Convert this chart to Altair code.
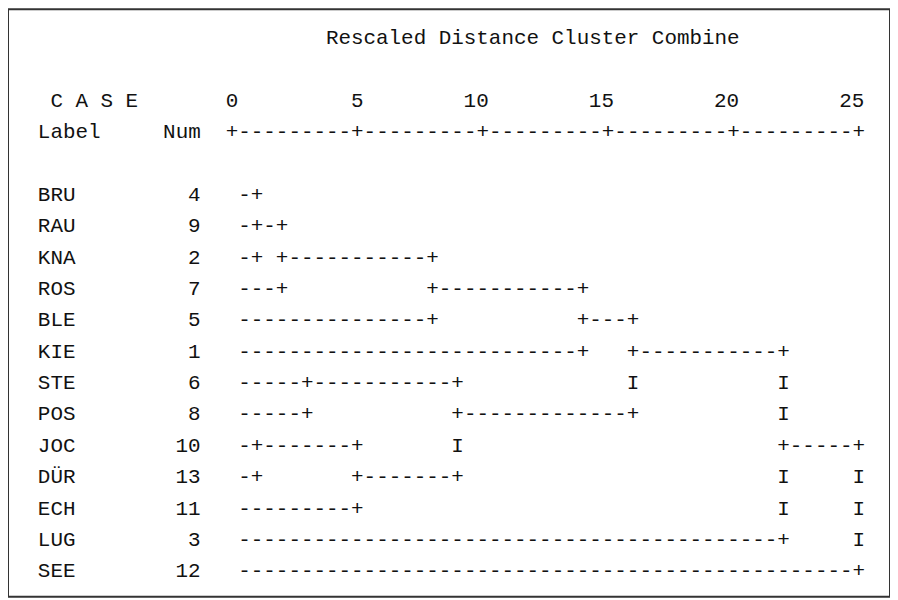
import altair as alt
import pandas as pd

# ---- data -------------------------------------------------------------
title_text = "Rescaled Distance Cluster Combine"
case_header = "C A S E"
label_header = "Label"
num_header = "Num"
tick_values = [0, 5, 10, 15, 20, 25]

case_labels = ["BRU", "RAU", "KNA", "ROS", "BLE", "KIE", "STE",
               "POS", "JOC", "DÜR", "ECH", "LUG", "SEE"]
case_nums = [4, 9, 2, 7, 5, 1, 6, 8, 10, 13, 11, 3, 12]

# text dendrogram, one string per case row (starts one column after the 0 tick)
dendro_rows = [
    "-+",
    "-+-+",
    "-+ +-----------+",
    "---+           +-----------+",
    "---------------+           +---+",
    "---------------------------+   +-----------+",
    "-----+-----------+             I           I",
    "-----+           +-------------+           I",
    "-+-------+       I                         +-----+",
    "-+       +-------+                         I     I",
    "---------+                                 I     I",
    "-------------------------------------------+     I",
    "-------------------------------------------------+",
]

# ---- layout (character grid) -------------------------------------------
PITCH = 12.58      # px per character column
LINE = 31.5        # px per text line
COL_LABEL, COL_NUM_END, COL_RULER, COL_TREE = 0, 13, 15, 16
FIRST_CASE_LINE = 5
NBSP = "\u00a0"


def keep_spaces(s):
    return s.replace(" ", NBSP)


ruler = "+" + ("-" * 9 + "+") * (len(tick_values) - 1)

left_rows = [
    {"text": title_text, "col": 23, "line": 0},
    {"text": case_header, "col": 1, "line": 2},
    {"text": label_header, "col": COL_LABEL, "line": 3},
    {"text": num_header, "col": 10, "line": 3},
    {"text": ruler, "col": COL_RULER, "line": 3},
]
right_rows = []
for v in tick_values:
    right_rows.append({"text": str(v), "col": COL_TREE + 2 * v, "line": 2})

for i, (lab, num, tree) in enumerate(zip(case_labels, case_nums, dendro_rows)):
    ln = FIRST_CASE_LINE + i
    left_rows.append({"text": lab, "col": COL_LABEL, "line": ln})
    left_rows.append({"text": keep_spaces(tree), "col": COL_TREE, "line": ln})
    right_rows.append({"text": str(num), "col": COL_NUM_END, "line": ln})

left_df = pd.DataFrame(left_rows)
right_df = pd.DataFrame(right_rows)

x_scale = alt.Scale(domain=[0, 70], range=[30, 30 + 70 * PITCH])
y_scale = alt.Scale(domain=[0, 18], range=[29, 29 + 18 * LINE])

font = "Liberation Mono"
common = dict(font=font, fontSize=21, baseline="middle", color="#111111")

left_layer = alt.Chart(left_df).mark_text(align="left", **common).encode(
    x=alt.X("col:Q", scale=x_scale, axis=None),
    y=alt.Y("line:Q", scale=y_scale, axis=None),
    text="text:N",
)
right_layer = alt.Chart(right_df).mark_text(align="right", **common).encode(
    x=alt.X("col:Q", scale=x_scale, axis=None),
    y=alt.Y("line:Q", scale=y_scale, axis=None),
    text="text:N",
)

chart = (
    alt.layer(left_layer, right_layer)
    .properties(width=886, height=590, autosize=alt.AutoSizeParams(type="none"), padding=0)
    .configure_view(stroke="#333333", strokeWidth=2)
)

chart.save("out.html", embed_options={"renderer": "svg", "actions": False})
